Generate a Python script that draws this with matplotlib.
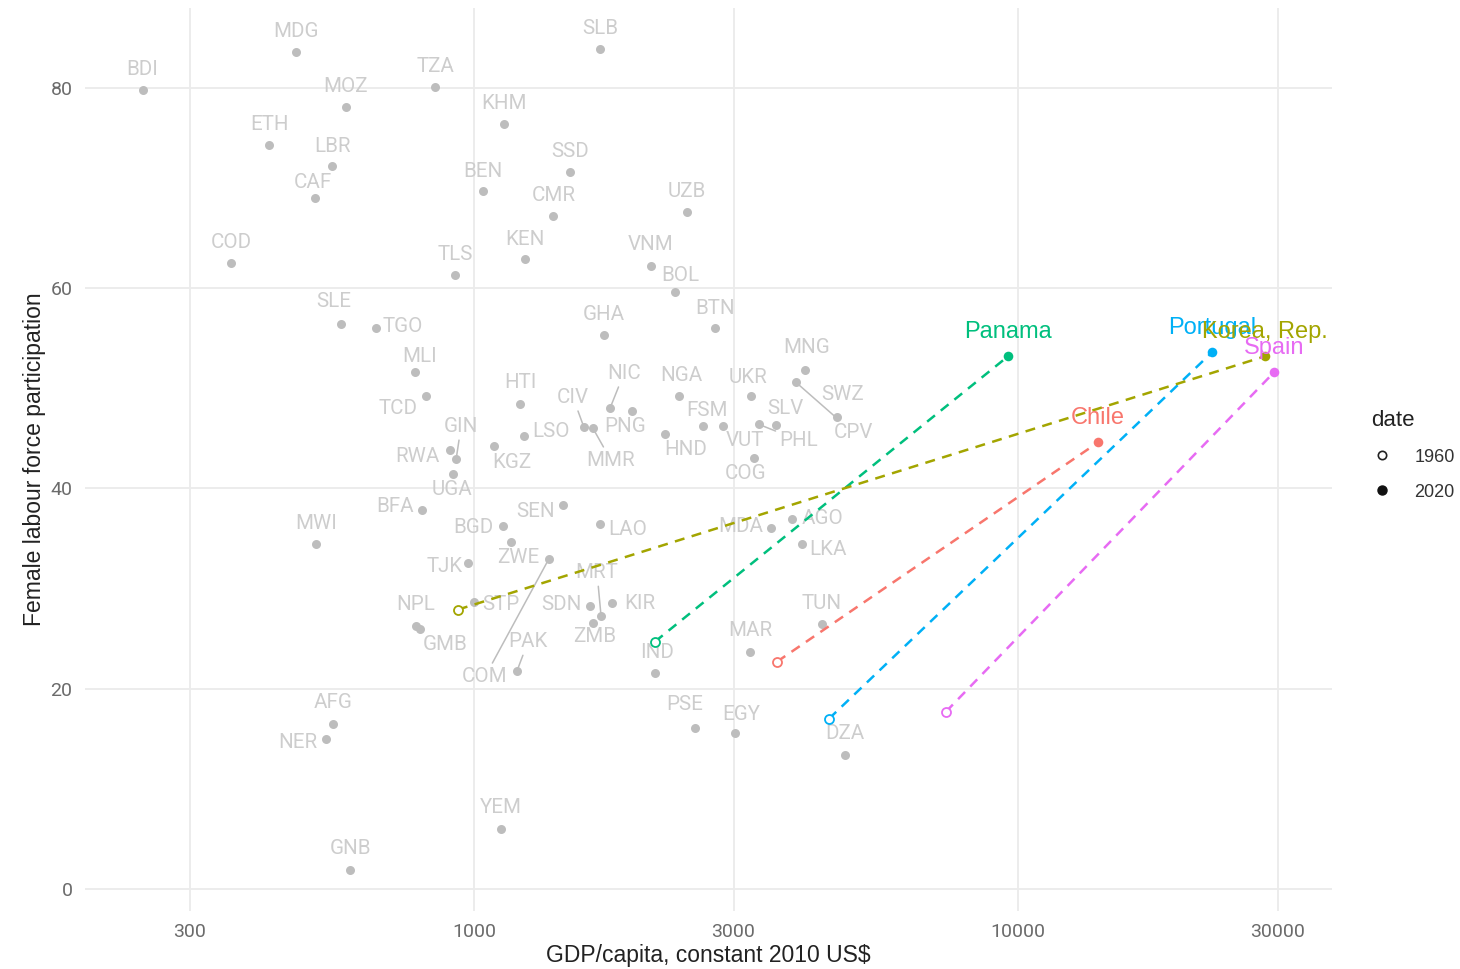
import numpy as np
import matplotlib.pyplot as plt
from matplotlib.lines import Line2D

# background countries, latest year
codes = ["BDI", "MDG", "TZA", "MOZ", "KHM", "ETH", "LBR", "BEN", "CAF", "COD",
         "TLS", "KEN", "SLE", "TGO", "SLB", "SSD", "CMR", "UZB", "VNM", "BOL",
         "GHA", "BTN", "MNG", "MLI", "TCD", "HTI", "NIC", "PNG", "CIV", "MMR",
         "NGA", "FSM", "HND", "VUT", "UKR", "COG", "PHL", "SLV", "CPV", "SWZ",
         "RWA", "GIN", "UGA", "KGZ", "LSO", "BFA", "SEN", "BGD", "LAO", "ZWE",
         "COM", "TJK", "MRT", "ZMB", "SDN", "KIR", "STP", "NPL", "GMB", "PAK",
         "IND", "MAR", "TUN", "MDA", "AGO", "LKA", "MWI", "AFG", "NER", "YEM",
         "GNB", "PSE", "EGY", "DZA"]
gdp = [246, 471, 848, 581, 1137, 420, 549, 1040, 511, 358,
       923, 1240, 569, 661, 1705, 1502, 1397, 2464, 2116, 2342,
       1734, 2773, 4060, 779, 816, 1215, 1778, 1952, 1593, 1655,
       2381, 2636, 2245, 2870, 3230, 3271, 3341, 3591, 3908, 4648,
       903, 927, 915, 1088, 1236, 803, 1458, 1131, 1705, 1170,
       1374, 975, 1712, 1655, 1634, 1794, 1000, 783, 796, 1200,
       2151, 3217, 4362, 3516, 3843, 4009, 512, 551, 535, 1121,
       592, 2549, 3019, 4808]
flfp = [79.8, 83.6, 80.1, 78.1, 76.4, 74.3, 72.2, 69.7, 69.0, 62.5,
        61.3, 62.9, 56.4, 56.0, 83.9, 71.6, 67.2, 67.6, 62.2, 59.6,
        55.3, 56.0, 51.8, 51.6, 49.2, 48.4, 48.0, 47.7, 46.1, 46.0,
        49.2, 46.2, 45.4, 46.2, 49.2, 43.0, 46.4, 46.3, 50.6, 47.1,
        43.8, 42.9, 41.4, 44.2, 45.2, 37.9, 38.4, 36.3, 36.5, 34.7,
        33.0, 32.6, 27.3, 26.6, 28.3, 28.6, 28.7, 26.3, 26.0, 21.8,
        21.6, 23.7, 26.5, 36.1, 37.0, 34.5, 34.5, 16.5, 15.0, 6.0,
        1.9, 16.1, 15.6, 13.4]

# highlighted countries, 1960 and 2020
hl_names = ["Chile", "Panama", "Portugal", "Korea, Rep.", "Spain"]
hl_gdp_1960 = [3606, 2151, 4493, 934, 7371]
hl_flfp_1960 = [22.7, 24.7, 17.0, 27.9, 17.7]
hl_gdp_2020 = [14030, 9585, 22730, 28430, 29550]
hl_flfp_2020 = [44.6, 53.2, 53.6, 53.2, 51.6]
hl_colors = ["#F8766D", "#00BF7D", "#00B0F6", "#A3A500", "#E76BF3"]

x_ticks = [300, 1000, 3000, 10000, 30000]
y_ticks = [0, 20, 40, 60, 80]

# repelled label offsets in pixels (dx, dy), and whether a leader line is drawn
label_pos = {
    "BDI": (0, 21), "MDG": (0, 20), "TZA": (0, 21), "MOZ": (0, 21), "KHM": (0, 21),
    "ETH": (0, 21), "LBR": (0, 20), "BEN": (0, 20), "CAF": (-3, 16), "COD": (0, 21),
    "TLS": (0, 21), "KEN": (0, 20), "SLE": (-7, 23), "TGO": (27, 2), "SLB": (0, 20),
    "SSD": (0, 21), "CMR": (1, 21), "UZB": (0, 21), "VNM": (0, 22), "BOL": (5, 17),
    "GHA": (0, 21), "BTN": (0, 20), "MNG": (2, 23), "MLI": (5, 16), "TCD": (-28, -12),
    "HTI": (0, 22), "NIC": (14, 35), "PNG": (-7, -15), "CIV": (-11, 30), "MMR": (18, -32),
    "NGA": (2, 21), "FSM": (4, 16), "HND": (21, -15), "VUT": (22, -14), "UKR": (-3, 19),
    "COG": (-8, -15), "PHL": (40, -16), "SLV": (9, 17), "CPV": (57, -50), "SWZ": (6, 23),
    "RWA": (-32, -6), "GIN": (5, 33), "UGA": (-1, -15), "KGZ": (18, -16), "LSO": (27, 5),
    "BFA": (-27, 3), "SEN": (-28, -7), "BGD": (-30, -2), "LAO": (28, -6), "ZWE": (7, -16),
    "COM": (-64, -118), "TJK": (-23, -4), "MRT": (-4, 43), "ZMB": (2, -14), "SDN": (-29, 1),
    "KIR": (28, -1), "STP": (27, -3), "NPL": (-1, 21), "GMB": (25, -16), "PAK": (11, 29),
    "IND": (2, 20), "MAR": (0, 21), "TUN": (0, 20), "MDA": (-30, 1), "AGO": (30, 0),
    "LKA": (26, -6), "MWI": (0, 20), "AFG": (0, 21), "NER": (-28, -4), "YEM": (0, 21),
    "GNB": (0, 21), "PSE": (-10, 23), "EGY": (6, 18), "DZA": (0, 21),
}
with_segment = {"NIC", "CIV", "MMR", "PHL", "CPV", "GIN", "COM", "MRT", "PAK"}

grey_pt = "#BDBDBD"
grey_txt = "#CDCDCD"

fig = plt.figure(figsize=(14.6, 9.69), dpi=100)
ax = fig.add_axes([0.0582, 0.0599, 0.8541, 0.9319])

ax.set_xscale("log")
ax.set_xlim(192.7, 37770)
ax.set_ylim(-2.2, 88.0)

ax.scatter(gdp, flfp, s=42, color=grey_pt, linewidths=0, zorder=2)
for c, g, f in zip(codes, gdp, flfp):
    dx, dy = label_pos[c]
    arrow = None
    if c in with_segment:
        arrow = dict(arrowstyle="-", color=grey_pt, lw=1.1, shrinkA=1, shrinkB=2)
    ax.annotate(c, xy=(g, f), xytext=(dx, dy), textcoords="offset pixels",
                ha="center", va="center", fontsize=14.8, color=grey_txt,
                family="Roboto", arrowprops=arrow, zorder=3)

# trajectories 1960 -> 2020
for name, x0, y0, x1, y1, col in zip(hl_names, hl_gdp_1960, hl_flfp_1960,
                                     hl_gdp_2020, hl_flfp_2020, hl_colors):
    ax.plot([x0, x1], [y0, y1], color=col, lw=1.8, dashes=(4, 3), zorder=4)
    ax.scatter([x0], [y0], s=42, facecolors="white", edgecolors=col,
               linewidths=1.3, zorder=5)
    ax.scatter([x1], [y1], s=48, color=col, linewidths=0, zorder=5)
for name, x1, y1, col in zip(hl_names, hl_gdp_2020, hl_flfp_2020, hl_colors):
    ax.annotate(name, xy=(x1, y1), xytext=(0, 24), textcoords="offset pixels",
                ha="center", va="center", fontsize=17, color=col,
                family="Liberation Sans", zorder=6)

ax.set_xticks(x_ticks)
ax.set_xticklabels([str(t) for t in x_ticks])
ax.xaxis.set_minor_locator(plt.NullLocator())
ax.set_yticks(y_ticks)
ax.grid(True, which="major", color="#EBEBEB", lw=1.3, zorder=0)
ax.set_axisbelow(True)
for s in ax.spines.values():
    s.set_visible(False)
ax.tick_params(length=0, labelsize=14, labelcolor="#6B6B6B", pad=9)
for lab in ax.get_xticklabels() + ax.get_yticklabels():
    lab.set_family("Roboto")

ax.set_xlabel("GDP/capita, constant 2010 US$", fontsize=16.5, color="#222222",
              family="Liberation Sans", labelpad=2)
ax.set_ylabel("Female labour force participation", fontsize=16.5, color="#222222",
              family="Liberation Sans", labelpad=3)

handles = [
    Line2D([], [], ls="none", marker="o", markersize=6, markerfacecolor="white",
           markeredgecolor="#222222", markeredgewidth=1.2),
    Line2D([], [], ls="none", marker="o", markersize=6.5, color="#111111"),
]
leg = fig.legend(handles, ["1960", "2020"], title="date", loc="upper left",
                 bbox_to_anchor=(0.928, 0.594), frameon=False,
                 prop={"family": "Liberation Sans", "size": 13},
                 title_fontproperties={"family": "Liberation Sans", "size": 16},
                 handletextpad=1.2, labelspacing=1.0, handlelength=1.2)
leg._legend_box.align = "left"
for t in leg.get_texts():
    t.set_color("#333333")
leg.get_title().set_color("#222222")

fig.savefig("out.png", dpi=100, facecolor="white")
